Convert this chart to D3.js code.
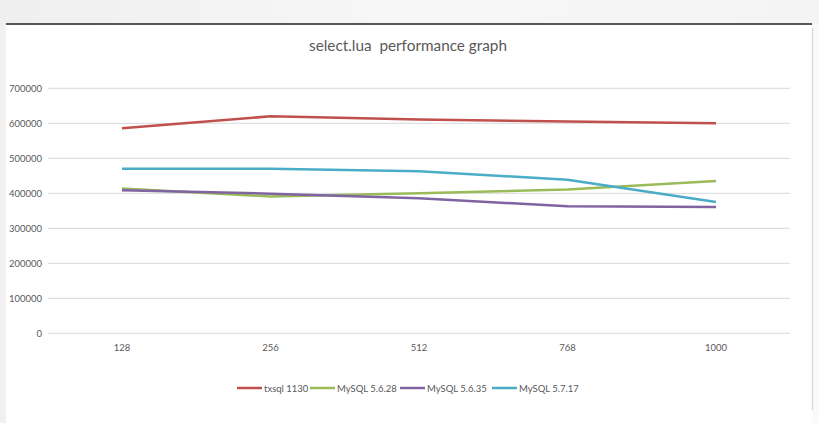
<!DOCTYPE html>
<html><head><meta charset="utf-8">
<script src="https://cdn.jsdelivr.net/npm/d3@7"></script>
<style>body{margin:0;background:#fff;}svg{display:block;}</style>
</head><body>
<svg id="c" width="819" height="423"></svg>
<script>
const categories = ["128", "256", "512", "768", "1000"];
const seriesNames = ["txsql 1130", "MySQL 5.6.28", "MySQL 5.6.35", "MySQL 5.7.17"];
const txsql = [586000, 620000, 611000, 605000, 600000];
const mysql5628 = [414000, 391000, 400000, 411000, 435000];
const mysql5635 = [409000, 399000, 386000, 363000, 361000];
const mysql5717 = [470000, 470000, 463000, 439000, 375000];
const yTicks = [0, 100000, 200000, 300000, 400000, 500000, 600000, 700000];
const colors = ["#c0504d", "#9bbb59", "#8064a2", "#4bacc6"];
const series = [txsql, mysql5628, mysql5635, mysql5717];

const svg = d3.select("#c");
const font = "Lato, 'Open Sans', sans-serif";

// background
const bg = svg.append("defs").append("linearGradient").attr("id","g").attr("x1","0").attr("x2","1");
bg.append("stop").attr("offset","0").attr("stop-color","#efefef");
bg.append("stop").attr("offset","0.5").attr("stop-color","#f7f7f7");
bg.append("stop").attr("offset","1").attr("stop-color","#f4f4f4");
svg.append("rect").attr("width",819).attr("height",423).attr("fill","#fafafa");
svg.append("rect").attr("width",819).attr("height",25).attr("fill","url(#g)");
svg.append("rect").attr("x",0).attr("y",25).attr("width",6).attr("height",398).attr("fill","#f1f1f1");
svg.append("rect").attr("x",6).attr("y",25).attr("width",806).attr("height",398).attr("fill","#ffffff");
svg.append("line").attr("x1",6).attr("x2",812).attr("y1",24).attr("y2",24).attr("stroke","#222").attr("stroke-width",1.3);
svg.append("line").attr("x1",812.5).attr("x2",812.5).attr("y1",28).attr("y2",410).attr("stroke","#d9d9d9").attr("stroke-width",1.5);

const x = d3.scalePoint().domain(categories).range([122, 716]);
const y = d3.scaleLinear().domain([0, 700000]).range([333.3, 88.3]);

// grid
svg.append("g").selectAll("line").data(yTicks).join("line")
  .attr("x1",48).attr("x2",790)
  .attr("y1",d=>y(d)).attr("y2",d=>y(d))
  .attr("stroke","#d9d9d9").attr("stroke-width",1);

// y labels
svg.append("g").selectAll("text").data(yTicks).join("text")
  .attr("x",42).attr("y",d=>y(d)+3.5).attr("text-anchor","end")
  .attr("font-family",font).attr("font-size",9.5).attr("fill","#595959")
  .text(d=>d);

// x labels
svg.append("g").selectAll("text").data(categories).join("text")
  .attr("x",d=>x(d)).attr("y",351).attr("text-anchor","middle")
  .attr("font-family",font).attr("font-size",9.5).attr("fill","#595959")
  .text(d=>d);

// lines
const line = d3.line().x((d,i)=>x(categories[i])).y(d=>y(d));
series.forEach((s,k)=>{
  svg.append("path").datum(s).attr("d",line).attr("fill","none")
    .attr("stroke",colors[k]).attr("stroke-width",2.5).attr("stroke-linejoin","round");
});

// title
svg.append("text").attr("x",408).attr("y",51).attr("text-anchor","middle")
  .attr("font-family",font).attr("font-size",15.3).attr("fill","#595959")
  .style("white-space","pre")
  .text("select.lua  performance graph");

// legend
const lg = svg.append("g");
const legendX = [237, 310, 400, 492];
seriesNames.forEach((n,k)=>{
  lg.append("line").attr("x1",legendX[k]).attr("x2",legendX[k]+25).attr("y1",388).attr("y2",388)
    .attr("stroke",colors[k]).attr("stroke-width",2.5);
  lg.append("text").attr("x",legendX[k]+27).attr("y",391.5)
    .attr("font-family",font).attr("font-size",9.5).attr("fill","#595959").text(n);
});
</script>
</body></html>
